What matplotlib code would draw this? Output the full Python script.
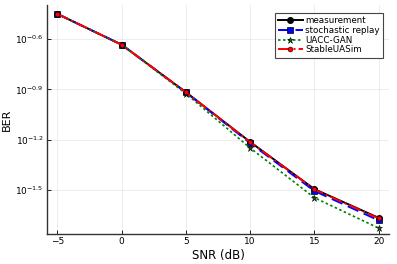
import matplotlib
matplotlib.use("Agg")
import matplotlib.pyplot as plt
import numpy as np

snr = [-5, 0, 5, 10, 15, 20]
# log10(BER)
measurement = [-0.451, -0.634, -0.917, -1.213, -1.494, -1.665]
replay = [-0.451, -0.634, -0.918, -1.220, -1.505, -1.680]
uacc_gan = [-0.451, -0.634, -0.925, -1.249, -1.545, -1.726]
stable = [-0.451, -0.634, -0.917, -1.214, -1.496, -1.668]

ytick_exp = [-0.6, -0.9, -1.2, -1.5]
xticks = [-5, 0, 5, 10, 15, 20]

plt.rcParams['font.family'] = 'DejaVu Sans'
fig = plt.figure(figsize=(3.97, 2.64), dpi=100)
ax = fig.add_axes([47/397, 30/264, 342/397, 229/264])

ax.plot(snr, 10**np.array(measurement), color='black', lw=1.4, marker='o', ms=4,
        label='measurement')
ax.plot(snr, 10**np.array(replay), color='blue', lw=1.4, ls=(0, (6, 3)), marker='s', ms=4.5,
        mec='black', mew=0.5, label='stochastic replay')
ax.plot(snr, 10**np.array(uacc_gan), color='green', lw=1.2, ls=(0, (1.5, 1.5)), marker='*', ms=5,
        mfc='darkgreen', mec='black', mew=0.4, label='UACC-GAN')
ax.plot(snr, 10**np.array(stable), color='red', lw=1.4, ls='-.', marker='o', ms=3.5,
        mec='black', mew=0.4, label='StableUASim')

ax.set_yscale('log')
ax.set_xlim(-5.8, 20.8)
ax.set_ylim(10**-1.761, 10**-0.398)
ax.set_xticks(xticks)
ax.set_xticklabels([str(x).replace('-', '\u2212') for x in xticks])
ax.set_yticks([10**e for e in ytick_exp])
ax.set_yticklabels([r'$10^{%s}$' % str(e).replace('-', '\u2212') for e in ytick_exp])
ax.yaxis.set_minor_locator(matplotlib.ticker.NullLocator())
ax.tick_params(direction='in', length=3, labelsize=6.5, colors='black', width=0.6, pad=2.5)
ax.grid(True, color='black', alpha=0.1, lw=0.5)
for s in ['top', 'right']:
    ax.spines[s].set_visible(False)
for s in ['left', 'bottom']:
    ax.spines[s].set_linewidth(1.0)
    ax.spines[s].set_color('#333333')

ax.set_xlabel('SNR (dB)', fontsize=8.5, labelpad=2)
ax.set_ylabel('BER', fontsize=8)
ax.yaxis.set_label_coords(-0.102, 0.5)

leg = ax.legend(loc='upper right', fontsize=6.3, fancybox=False, edgecolor='#444444',
                handlelength=2.8, borderpad=0.35, labelspacing=0.1, handletextpad=0.3,
                bbox_to_anchor=(0.995, 0.985), framealpha=1)
leg.get_frame().set_linewidth(0.8)

fig.savefig('out.png', dpi=100)
